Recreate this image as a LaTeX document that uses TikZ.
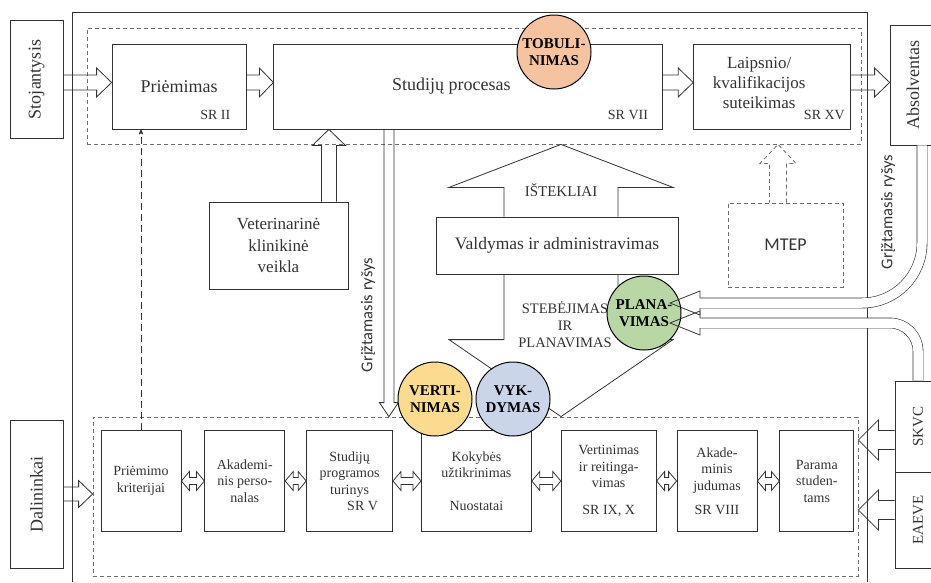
\documentclass[tikz,border=0pt]{standalone}
\usepackage{fontspec}
\setmainfont{Liberation Serif}
\newfontfamily\sansfam{Carlito}
\usepackage{graphicx}
\usepackage{xcolor}
\usetikzlibrary{arrows,positioning,calc}

\definecolor{linec}{HTML}{333333}
\definecolor{dashc}{HTML}{6E6E6E}
\definecolor{tobulc}{HTML}{F6C3A0}
\definecolor{vertic}{HTML}{FADB8F}
\definecolor{vykc}{HTML}{CBD5EA}
\definecolor{planc}{HTML}{B8D7A5}

% hollow block arrow: [opts]{from}{to}{shaft half width}{head half width}{head length}
\newcommand{\hollowarrow}[6][]{%
  \path let \p1=(#2), \p2=(#3),
    \n1={atan2(\y2-\y1,\x2-\x1)}, \n2={veclen(\x2-\x1,\y2-\y1)}
    in (\p1) coordinate (ha) \pgfextra{\xdef\hang{\n1}\xdef\hlen{\n2}};
  \begin{scope}[shift={(ha)},rotate=\hang]
    \draw[hollowarr,#1] (0,#4) -- (\hlen-#6,#4) -- (\hlen-#6,#5) -- (\hlen,0)
      -- (\hlen-#6,-#5) -- (\hlen-#6,-#4) -- (0,-#4);
  \end{scope}}
% same, with a head at both ends
\newcommand{\hollowtwoway}[6][]{%
  \path let \p1=(#2), \p2=(#3),
    \n1={atan2(\y2-\y1,\x2-\x1)}, \n2={veclen(\x2-\x1,\y2-\y1)}
    in (\p1) coordinate (ha) \pgfextra{\xdef\hang{\n1}\xdef\hlen{\n2}};
  \begin{scope}[shift={(ha)},rotate=\hang]
    \draw[hollowarr,#1] (0,0) -- (#6,#5) -- (#6,#4) -- (\hlen-#6,#4) -- (\hlen-#6,#5)
      -- (\hlen,0) -- (\hlen-#6,-#5) -- (\hlen-#6,-#4) -- (#6,-#4) -- (#6,-#5) -- cycle;
  \end{scope}}

\begin{document}
\begin{tikzpicture}[x=1pt, y=-1pt, >=stealth',
	frameline/.style = {draw=linec, line width=0.8pt},
	bigbox/.style = {draw=linec, line width=0.8pt, align=center, inner sep=2pt, text=linec, font=\fontsize{18}{21}\selectfont},
	bigtext/.style = {align=center, inner sep=0pt, text=linec, font=\fontsize{18}{21}\selectfont},
	smallbox/.style = {bigbox, minimum height=101, font=\fontsize{14}{16.5}\selectfont},
	sidebox/.style = {bigbox, minimum width=53},
	zone/.style = {draw=dashc, line width=0.8pt, dash pattern=on 4pt off 3pt},
	dashes/.style = {draw=dashc, dash pattern=on 4pt off 3pt},
	circ/.style = {circle, draw=black, line width=1pt, minimum size=74, inner sep=0pt, align=center, font=\bfseries\fontsize{15}{17}\selectfont},
	hollowarr/.style = {draw=linec, line width=0.8pt},
	pipe/.style = {draw=linec, line width=0.6pt, double=white, double distance=9.5pt},
	sr/.style = {anchor=south east, inner sep=0pt, text=linec, font=\fontsize{14}{16}\selectfont},
	fb/.style = {rotate=90, inner sep=0pt, text=linec, font=\sansfam\fontsize{16.5}{19}\selectfont}
	]
	\useasboundingbox (0,0) rectangle (931,582);
	
	% frame and dashed zones
	\draw[frameline] (72,582) -- (72,12) -- (867,12) -- (867,582);
	\node[zone, minimum width=774, minimum height=116] (topzone) at (474,86) {};
	\node[zone, minimum width=765, minimum height=159] (botzone) at (475.5,496.5) {};
	
	% outside boxes
	\node[sidebox, minimum height=118] (stoj) at (36.5,79.5) {\rotatebox{90}{Stojantysis}};
	\node[sidebox, minimum width=46, minimum height=120] (absol) at (913,85) {\rotatebox{90}{Absolventas}};
	\node[sidebox, minimum height=148] (dal) at (36.5,494) {\rotatebox{90}{Dalininkai}};
	\node[sidebox, minimum width=46, minimum height=91, font=\fontsize{15}{18}\selectfont] (skvc) at (918,426.5) {\rotatebox{90}{SKVC}};
	\node[sidebox, minimum width=46, minimum height=96, font=\fontsize{15}{18}\selectfont] (eaeve) at (918,520) {\rotatebox{90}{EAEVE}};
	
	% top row
	\node[bigbox, minimum width=134, minimum height=85,
		label={[sr, xshift=-16pt, yshift=10pt]south east:SR II}] (prie) at (179,86.5) {Priėmimas};
	\node[bigbox, minimum width=389, minimum height=85, right=27pt of prie,
		label={[bigtext, xshift=-17pt]center:Studijų procesas},
		label={[sr, xshift=-15pt, yshift=9pt]south east:SR VII}] (stud) {};
	\node[bigbox, minimum width=157, minimum height=85, right=30pt of stud,
		label={[bigtext, font=\fontsize{17}{20}\selectfont, xshift=-13pt, yshift=3.5pt]center:Laipsnio/\\kvalifikacijos\\suteikimas},
		label={[sr, xshift=-6pt, yshift=9pt]south east:SR XV}] (laip) {};
	
	% middle
	\node[bigbox, minimum width=139, minimum height=87, font=\fontsize{17}{21.5}\selectfont] (vet) at (278.5,245.5) {Veterinarinė\\klinikinė\\veikla};
	\node[bigbox, dashes, minimum width=115, minimum height=84, font=\sansfam\fontsize{18}{21}\selectfont] (mtep) at (785.5,245) {MTEP};
	\node[text=linec, font=\fontsize{15}{18}\selectfont] (istekl) at (561,190) {IŠTEKLIAI};
	\node[text=linec, align=center, font=\fontsize{14.5}{17}\selectfont] (stebej) at (565,325) {STEBĖJIMAS\\IR\\PLANAVIMAS};
	\node[fb] (fbleft) at (368,315) {Grįžtamasis ryšys};
	\node[fb] (fbright) at (888,212) {Grįžtamasis ryšys};
	
	% bottom row
	\node[smallbox, minimum width=80] (crit) at (141,481) {Priėmimo\\kriterijai};
	\node[smallbox, minimum width=80, right=23pt of crit] (acad) {Akademi-\\nis perso-\\nalas};
	\node[smallbox, minimum width=86, right=21pt of acad] (prog) {Studijų\\programos\\turinys\\\hspace*{26pt}SR V};
	\node[smallbox, minimum width=110, right=28pt of prog] (koky) {Kokybės\\užtikrinimas\\[16.5pt]Nuostatai};
	\node[smallbox, minimum width=95, right=29pt of koky] (vert) {Vertinimas\\ir reitinga-\\vimas\\[10pt]SR IX, X};
	\node[smallbox, minimum width=80, right=20pt of vert] (jud) {Akade-\\minis\\judumas\\[8pt]SR VIII};
	\node[smallbox, minimum width=74, right=22pt of jud] (param) {Parama\\studen-\\tams};
	
	% block arrows
	\hollowarrow{$(stoj.east |- prie.west)+(0,-4)$}{$(prie.west)+(0,-4)$}{7.5}{14.5}{15}
	\hollowarrow{$(prie.east)+(0,-4)$}{$(stud.west)+(0,-4)$}{7.5}{14.5}{14}
	\hollowarrow{$(stud.east)+(0,-4)$}{$(laip.west)+(0,-4)$}{7.5}{14.5}{15}
	\hollowarrow{$(laip.east)+(0,-4)$}{$(absol.west |- laip.east)+(0,-4)$}{7.5}{14.5}{15}
	
	\coordinate (vetup) at ($(vet.north east)+(-19.5,0)$);
	\hollowarrow{vetup}{vetup |- stud.south}{7.5}{16.5}{16}
	\coordinate (fbtop) at ($(stud.south west)+(115.5,0)$);
	\hollowarrow{fbtop}{fbtop |- botzone.north}{5}{9.5}{14}
	
	\node[bigbox, fill=white, minimum width=242, minimum height=57, font=\fontsize{17.5}{21}\selectfont] (valdym) at (557,245.5) {Valdymas ir administravimas};
	\coordinate (upbase) at ($(valdym.north)+(4,0)$);
	\hollowarrow{upbase}{upbase |- topzone.south}{57}{112}{43}
	\coordinate (downbase) at ($(valdym.south)+(4,0)$);
	\hollowarrow{downbase}{downbase |- botzone.north}{57}{112}{77}
	
	\coordinate (mtepup) at ($(mtep.north)+(-7.5,0)$);
	\hollowarrow[dashes]{mtepup}{mtepup |- topzone.south}{8.5}{18}{19}
	
	\hollowarrow{dal.east}{dal.east -| botzone.west}{7}{13.5}{14}
	\coordinate (skvcin) at ($(skvc.west)+(0,13.5)$);
	\hollowarrow{skvcin}{skvcin -| botzone.east}{9.5}{20}{20}
	\coordinate (eaevein) at ($(eaeve.west)+(0,-10)$);
	\hollowarrow{eaevein}{eaevein -| botzone.east}{9.5}{20}{20}
	
	\foreach \a/\b in {crit/acad, acad/prog, prog/koky, koky/vert, vert/jud, jud/param}
	{\hollowtwoway{\a.east}{\b.west}{3.5}{9.5}{8}}
	
	\draw[draw=linec, line width=0.8pt, dash pattern=on 7pt off 4pt, ->] (crit.north) -- (crit.north |- prie.south);
	
	% circles
	\node[circ, fill=tobulc] (tobul) at (554,52) {TOBULI-\\NIMAS};
	\node[circ, fill=vertic] (verti) at (435,399) {VERTI-\\NIMAS};
	\node[circ, fill=vykc] (vyk) at (513,399) {VYK-\\DYMAS};
	\node[circ, fill=planc] (plan) at (644,313) {PLANA-\\VIMAS};
	
	% feedback pipes
	\coordinate (fbin1) at ($(plan.center)+(26,-10)$);
	\coordinate (fbin2) at ($(plan.center)+(26,10)$);
	\coordinate (absout) at ($(absol.south)+(9,0)$);
	\draw[pipe, rounded corners=60pt] (absout) |- ($(fbin1)+(30,0)$);
	\draw[pipe, rounded corners=28pt] (skvc.north) |- ($(fbin2)+(30,0)$);
	\foreach \t in {fbin1, fbin2}
	\draw[hollowarr] ($(\t)+(30,-5)$) -- ($(\t)+(30,-12)$) -- (\t) -- ($(\t)+(30,12)$) -- ($(\t)+(30,5)$);
\end{tikzpicture}
\end{document}
